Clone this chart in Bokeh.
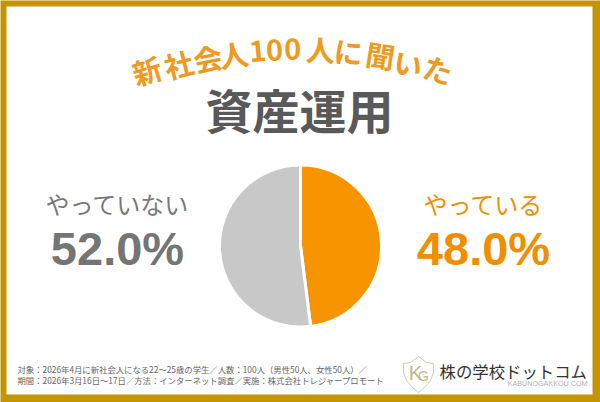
from math import pi, radians
from bokeh.plotting import figure
from bokeh.models import Range1d
from bokeh.core.properties import value
from bokeh.embed import file_html
from bokeh.resources import INLINE

labels = ["やっている", "やっていない"]
shares = [48.0, 52.0]
share_labels = ["48.0%", "52.0%"]
colors = ["#f79400", "#c9c8c9"]
title_chars = list("新社会人100人に聞いた")
main_title = "資産運用"
note_1 = "対象：2026年4月に新社会人になる22〜25歳の学生／人数：100人（男性50人、女性50人）／"
note_2 = "期間：2026年3月16日〜17日／方法：インターネット調査／実施：株式会社トレジャープロモート"
brand = "株の学校ドットコム"
brand_sub = "KABUNOGAKKOU.COM"

JP = value("Noto Sans CJK JP")
GOLD = "#c49500"
ORANGE = "#ef9a1f"

p = figure(width=600, height=402, output_backend="svg", toolbar_location=None,
           x_range=Range1d(0, 600), y_range=Range1d(402, 0),
           x_axis_type=None, y_axis_type=None, min_border=0,
           outline_line_color=None, background_fill_color=GOLD, border_fill_color=GOLD)
p.grid.visible = False

# frame: gold background, white panel
p.quad(left=6, right=592, top=6, bottom=394, fill_color="white", line_color=None)

# pie
start = pi / 2
total = sum(shares)
for v, c in zip(shares, colors):
    end = start - 2 * pi * v / total
    p.wedge(x=300, y=245.5, radius=81, start_angle=end, end_angle=start,
            direction="anticlock", fill_color=c, line_color="white", line_width=3)
    start = end

# arched title
cx = [146, 178, 207, 233, 257, 274, 292, 320, 348, 380, 408, 438]
cy = [69, 63, 57, 53, 50, 49, 48, 48, 50, 54, 62, 68]
rot = [17, 14, 11, 8, 5, 3, 1, -2, -5, -9, -13, -17]
for ch, x, y, r in zip(title_chars, cx, cy, rot):
    p.text(x=[x], y=[y], text=[ch], angle=radians(r), text_font=JP, text_font_style="bold",
           text_font_size="29px", text_color=ORANGE, text_align="center", text_baseline="middle")

p.text(x=[299], y=[108], text=[main_title], text_font=JP, text_font_style="bold", text_font_size="47px",
       text_color="#595959", text_align="center", text_baseline="middle")

# side labels
p.text(x=[117], y=[203], text=[labels[1]], text_font=JP, text_font_size="24px", text_color="#787878",
       text_align="center", text_baseline="middle")
p.text(x=[483], y=[203], text=[labels[0]], text_font=JP, text_font_size="24px", text_color="#ef8f00",
       text_align="center", text_baseline="middle")
p.text(x=[117], y=[248], text=[share_labels[1]], text_font=value("Liberation Sans"), text_font_style="bold",
       text_font_size="47px", text_color="#757575", text_align="center", text_baseline="middle")
p.text(x=[483], y=[248], text=[share_labels[0]], text_font=value("Liberation Sans"), text_font_style="bold",
       text_font_size="47px", text_color="#ef8f00", text_align="center", text_baseline="middle")

# footnote
p.text(x=[17, 17], y=[368, 379], text=[note_1, note_2], text_font=JP, text_font_size="8.35px",
       text_color="#666666", text_align="left", text_baseline="middle")

# logo
sx = [403, 410, 418, 426, 433, 433, 430, 425, 418, 411, 406, 403]
sy = [363, 362, 356, 362, 363, 372, 380, 386, 392, 386, 380, 372]
p.patch(sx, sy, fill_color="white", line_color="#cfcda6", line_width=1)
p.text(x=[415], y=[372], text=["K"], text_font=value("Liberation Sans"), text_font_size="20px",
       text_color="#bdbb88", text_align="center", text_baseline="middle")
p.text(x=[423], y=[375], text=["G"], text_font=value("Liberation Sans"), text_font_size="14px",
       text_color="#bdbb88", text_align="center", text_baseline="middle")
p.text(x=[439], y=[370], text=[brand], text_font=JP, text_font_size="16.4px", text_color="#333333",
       text_align="left", text_baseline="middle")
p.text(x=[587], y=[383], text=[brand_sub], text_font=value("Liberation Sans"), text_font_size="7.2px",
       text_color="#b0b0b0", text_align="right", text_baseline="middle")

open("out.html", "w").write(file_html(p, INLINE))
